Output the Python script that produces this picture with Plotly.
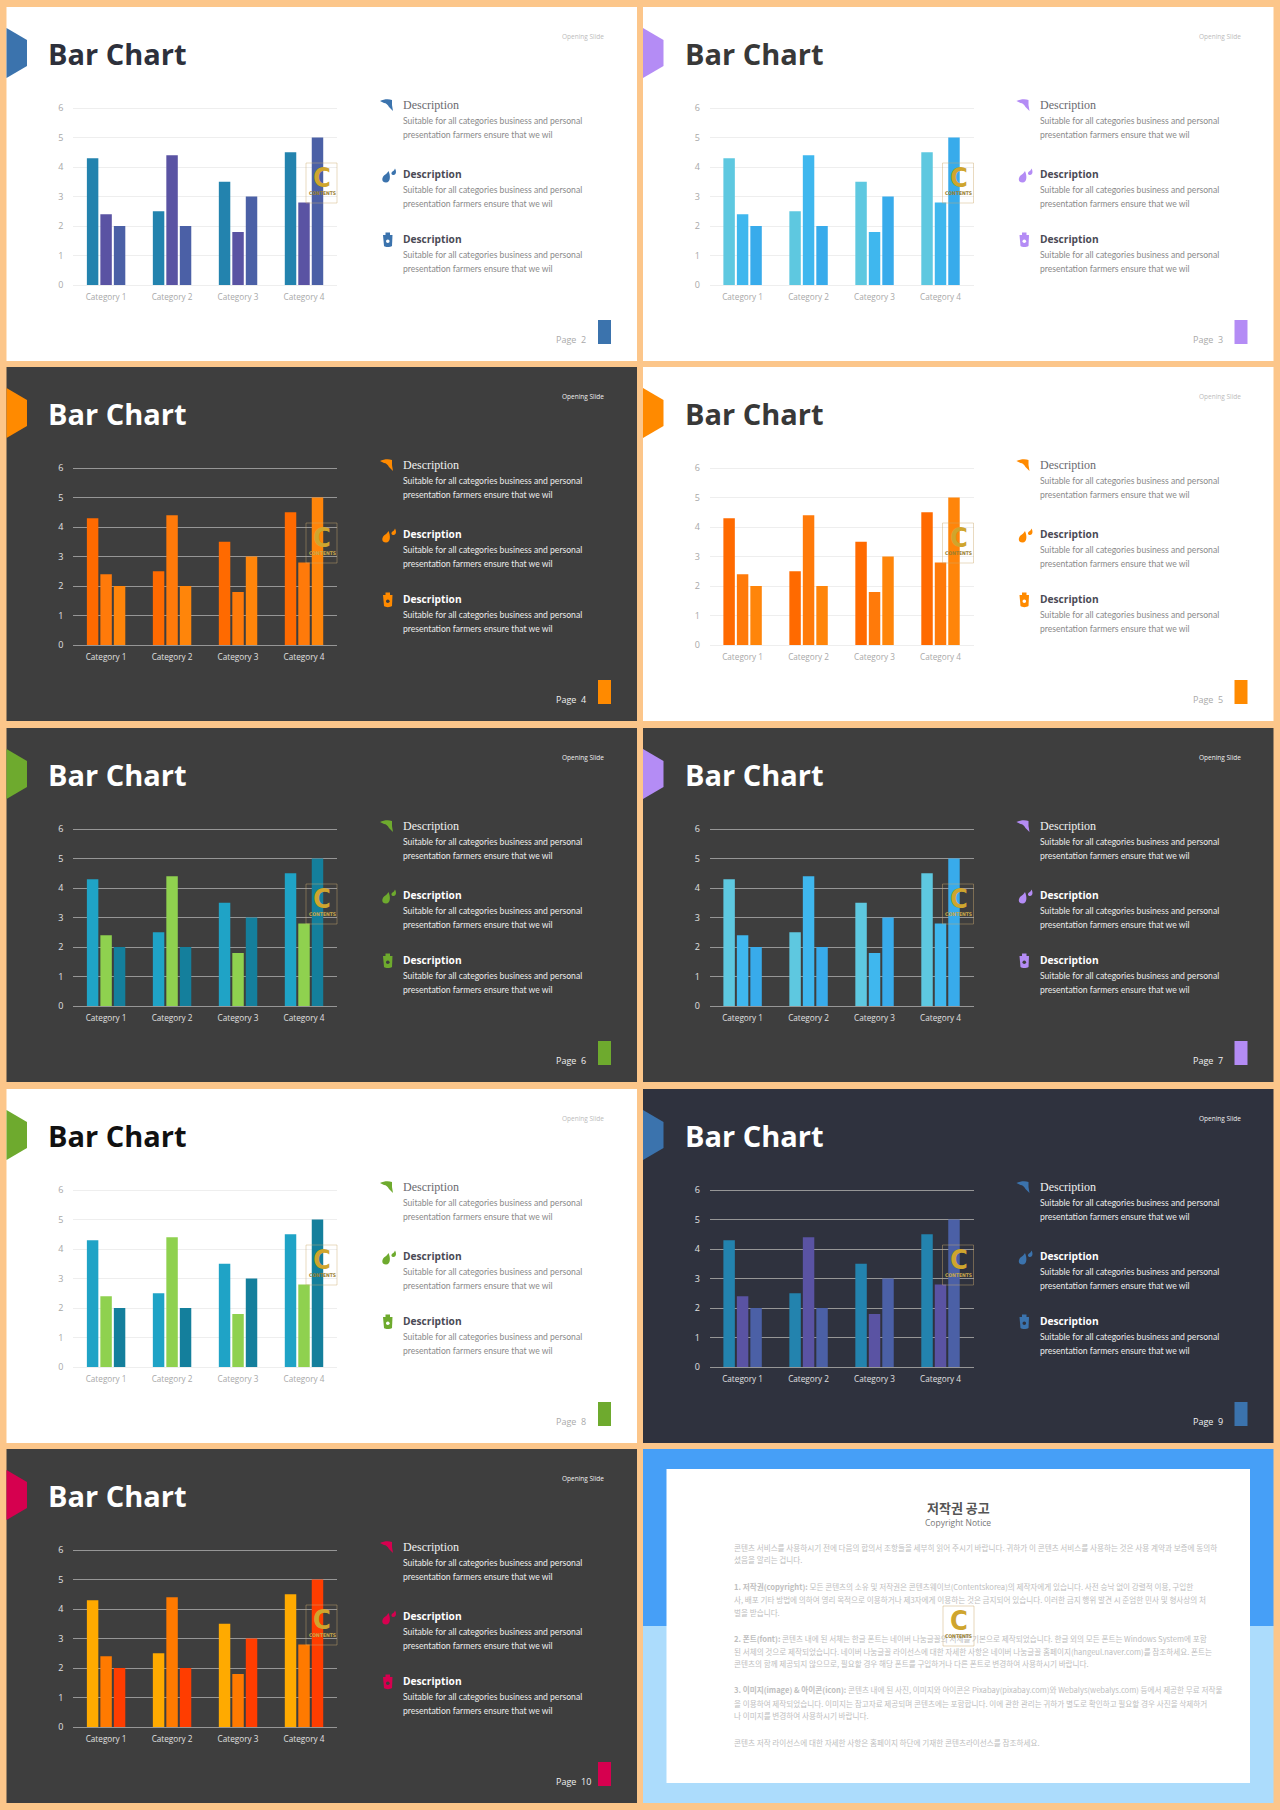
import plotly.graph_objects as go

W, H = 1280, 1810

categories = ["Category 1", "Category 2", "Category 3", "Category 4"]
series_1 = [4.3, 2.5, 3.5, 4.5]
series_2 = [2.4, 4.4, 1.8, 2.8]
series_3 = [2.0, 2.0, 3.0, 5.0]
series_names = ["Series 1", "Series 2", "Series 3"]
y_ticks = [0, 1, 2, 3, 4, 5, 6]
pages = [2, 3, 4, 5, 6, 7, 8, 9, 10]
backgrounds = ["#FFFFFF", "#FFFFFF", "#3E3E3E", "#FFFFFF", "#3E3E3E", "#3E3E3E", "#FFFFFF", "#2F323E", "#3E3E3E"]
title_colors = ["#2D303B", "#383838", "#FFFFFF", "#383838", "#FFFFFF", "#FFFFFF", "#111111", "#FFFFFF", "#FFFFFF"]
accents = ["#3B73AD", "#B48CF5", "#FF8A00", "#FF8A00", "#6EAA2E", "#B48CF5", "#6EAA2E", "#3B73AD", "#D6004F"]
palettes = [
    ["#2383AE", "#5A53A3", "#4B60A6"],
    ["#5EC8E0", "#3FB7EE", "#38ABEB"],
    ["#FF6A00", "#FF7A0A", "#FF850A"],
    ["#FF6A00", "#FF7A0A", "#FF850A"],
    ["#1FA3C6", "#8FD14F", "#147F9C"],
    ["#5EC8E0", "#3FB7EE", "#38ABEB"],
    ["#1FA3C6", "#8FD14F", "#147F9C"],
    ["#2383AE", "#5A53A3", "#4B60A6"],
    ["#FFAA00", "#FF7A00", "#FF3D00"],
]
desc_title = "Description"
desc_line_1 = "Suitable for all categories business and personal"
desc_line_2 = "presentation farmers ensure that we wil"
notice_title = "저작권 공고"
notice_sub = "Copyright Notice"
notice_lines = [
    "콘텐츠 서비스를 사용하시기 전에 다음의 합의서 조항들을 세부히 읽어 주시기 바랍니다. 귀하가 이 콘텐츠 서비스를 사용하는 것은 사용 계약과 보증에 동의하",
    "셨음을 알리는 겁니다.",
    "<b>1. 저작권(copyright):</b> 모든 콘텐츠의 소유 및 저작권은 콘텐츠웨이브(Contentskorea)의 제작자에게 있습니다. 사전 승낙 없이 강렬적 이용, 구입한",
    "사, 배포 기타 방법에 의하여 영리 목적으로 이용하거나 제3자에게 이용하는 것은 금지되어 있습니다. 이러한 금지 행위 발견 시 준엄한 민사 및 형사상의 처",
    "벌을 받습니다.",
    "<b>2. 폰트(font):</b> 콘텐츠 내에 된 서체는 한글 폰트는 네이버 나눔글꼴의 서체를 기본으로 제작되었습니다. 한글 외의 모든 폰트는 Windows System에 포함",
    "된 서체의 것으로 제작되었습니다. 네이버 나눔글꼴 라이선스에 대한 자세한 사항은 네이버 나눔글꼴 홈페이지(hangeul.naver.com)를 참조하세요. 폰트는",
    "콘텐츠의 함께 제공되지 않으므로, 필요할 경우 해당 폰트를 구입하거나 다른 폰트로 변경하여 사용하시기 바랍니다.",
    "<b>3. 이미지(image) &amp; 아이콘(icon):</b> 콘텐츠 내에 된 사진, 이미지와 아이콘은 Pixabay(pixabay.com)와 Webalys(webalys.com) 등에서 제공한 무료 저작물",
    "을 이용하여 제작되었습니다. 이미지는 참고자료 제공되며 콘텐츠에는 포함합니다. 이에 관한 관리는 귀하가 별도로 확인하고 필요할 경우 사진을 삭제하거",
    "나 이미지를 변경하여 사용하시기 바랍니다.",
    "콘텐츠 저작 라이선스에 대한 자세한 사항은 홈페이지 하단에 기재한 콘텐츠라이선스를 참조하세요.",
]
notice_line_y = [1547, 1559, 1586, 1599, 1612, 1638, 1651, 1663, 1689, 1703, 1715, 1742]

col_x = [6.5, 643]
row_y = [7, 367, 728, 1089, 1449]
panel_w, panel_h = 630.5, 354
LOGO = "DejaVu Sans Condensed"
Y_PAD = 0.04


def fx(p):
    return p / W


def fy(p):
    return 1 - p / H


def path(cmds):
    out = []
    for c in cmds:
        if isinstance(c, str):
            out.append(c)
        else:
            out.append(f"{fx(c[0]):.5f},{fy(c[1]):.5f}")
    return " ".join(out)


fig = go.Figure()
shapes, annos = [], []


def rect(x0, y0, x1, y1, fill, layer="below", line=None, lw=0):
    shapes.append(dict(type="rect", xref="paper", yref="paper", x0=fx(x0), x1=fx(x1), y0=fy(y1), y1=fy(y0),
                       fillcolor=fill, layer=layer, line=dict(color=line or "rgba(0,0,0,0)", width=lw)))


def txt(x, y, s, size, color, family="Open Sans", anchor="left"):
    annos.append(dict(x=fx(x), y=fy(y), xref="paper", yref="paper", text=s, showarrow=False, xanchor=anchor,
                      yanchor="middle", align=anchor, font=dict(size=size, color=color, family=family),
                      borderpad=0, borderwidth=0))


def pth(cmds, fill):
    shapes.append(dict(type="path", xref="paper", yref="paper", path=path(cmds), fillcolor=fill, layer="above",
                       line=dict(width=0)))


# page background
rect(0, 0, W, H, "#FCC68A")

slots = [(c, r) for r in range(4) for c in range(2)] + [(0, 4)]
for i, (c, r) in enumerate(slots):
    x0, y0 = col_x[c], row_y[r]
    bg, acc, tc = backgrounds[i], accents[i], title_colors[i]
    dark = bg != "#FFFFFF"
    rect(x0, y0, x0 + panel_w, y0 + panel_h, bg)

    # header marker and page marker
    shapes.append(dict(type="path", xref="paper", yref="paper", layer="below", fillcolor=acc, line=dict(width=0),
                       path=path(["M", (x0, y0 + 21), "L", (x0 + 20.5, y0 + 33), "L", (x0 + 20.5, y0 + 59),
                                  "L", (x0, y0 + 71), "Z"])))
    rect(x0 + 591.5, y0 + 313, x0 + 604.5, y0 + 337, acc)

    txt(x0 + 41.5, y0 + 46.5, "<b>Bar Chart</b>", 29, tc)
    txt(x0 + 597.5, y0 + 29, "Opening Slide", 6.5, "#F0F0F0" if dark else "#BBBBBB", anchor="right")
    txt(x0 + 549.5, y0 + 332, f"Page&nbsp;&nbsp;{pages[i]}", 9, "#F0F0F0" if dark else "#AAAAAA")

    body = "#ECECEC" if dark else "#8A8A8A"
    head = "#FFFFFF" if dark else "#4A4A55"
    head1 = "#F0F0F0" if dark else "#6A6A70"
    tx = x0 + 396.5
    txt(tx, y0 + 98, desc_title, 12, head1, "Liberation Serif")
    txt(tx, y0 + 167, f"<b>{desc_title}</b>", 10.2, head)
    txt(tx, y0 + 232, f"<b>{desc_title}</b>", 10.2, head)
    for yy in (114, 183, 248):
        txt(tx, y0 + yy, desc_line_1, 8.6, body, "Lato")
        txt(tx, y0 + yy + 14, desc_line_2, 8.6, body, "Lato")

    # icons
    ox, oy = x0 - 6.5, y0 - 7
    P = lambda a, b: (ox + a, oy + b)
    pth(["M", P(380, 101), "C", P(384, 99), P(389, 99), P(392, 100), "L", P(392, 105), "L", P(393, 111),
         "L", P(389, 107), "C", P(388, 105), P(386, 103), P(384, 103), "Z"], acc)
    pth(["M", P(388.5, 171), "C", P(390.5, 175), P(391, 182.5), P(386, 182.5), "C", P(381.5, 182.5), P(381.5, 178), P(384, 175.5),
         "C", P(386, 174), P(387.5, 173), P(388.5, 171), "Z"], acc)
    pth(["M", P(395, 168.5), "C", P(396.5, 171), P(396.5, 175), P(393.5, 175), "C", P(391, 175), P(391, 172.5), P(392.5, 171.5),
         "C", P(393.5, 171), P(394.5, 170), P(395, 168.5), "Z"], acc)
    pth(["M", P(383, 235), "L", P(392.5, 235), "L", P(392, 246), "C", P(390, 247.5), P(385.5, 247.5), P(384, 246), "Z"], acc)
    pth(["M", P(385.5, 232.5), "L", P(390, 232.5), "L", P(390, 235), "L", P(385.5, 235), "Z"], acc)
    shapes.append(dict(type="circle", xref="paper", yref="paper", layer="above", fillcolor=bg, line=dict(width=0),
                       x0=fx(ox + 386), x1=fx(ox + 389.6), y0=fy(oy + 243), y1=fy(oy + 239.4)))

    # chart
    n = "" if i == 0 else str(i + 1)
    xa, ya = f"x{n}", f"y{n}"
    for name, vals, color in zip(series_names, [series_1, series_2, series_3], palettes[i]):
        fig.add_trace(go.Bar(x=categories, y=vals, name=name, marker=dict(color=color, line=dict(width=0)),
                             xaxis=xa, yaxis=ya, showlegend=False))
    grid = "#969696" if dark else "#EEEEEE"
    tick = "#E0E0E0" if dark else "#A8A8A8"
    unit = 177 / 6
    fig.layout[f"xaxis{n}"] = dict(domain=[fx(x0 + 66.6), fx(x0 + 330.5)], anchor=ya, type="category", automargin=False,
                                   categoryorder="array", categoryarray=categories, showgrid=False, zeroline=False,
                                   showline=False, ticks="outside", ticklen=3, tickcolor="rgba(0,0,0,0)",
                                   tickfont=dict(size=8.2, color=tick, family="Open Sans"))
    fig.layout[f"yaxis{n}"] = dict(domain=[fy(y0 + 278 + Y_PAD * unit), fy(y0 + 101 - Y_PAD * unit)], anchor=xa,
                                   range=[-Y_PAD, 6 + Y_PAD], tickvals=y_ticks, automargin=False,
                                   showgrid=True, gridcolor=grid, gridwidth=1.3 if dark else 1.2, zeroline=False,
                                   showline=False, ticks="outside", ticklen=7, tickcolor="rgba(0,0,0,0)",
                                   tickfont=dict(size=9, color=tick, family="Open Sans"))

    # watermark
    rect(x0 + 299.5, y0 + 156, x0 + 330.5, y0 + 196, "rgba(0,0,0,0)", "above", "rgba(205,170,110,0.55)", 0.8)
    txt(x0 + 315.5, y0 + 170.5, "<b>C</b>", 27, "#CFA52E", LOGO, "center")
    txt(x0 + 315.5, y0 + 185.5, "<b>CONTENTS</b>", 5, "#C9A84A" if dark else "#9A8030", LOGO, "center")

# notice panel
x0, y0 = col_x[1], row_y[4]
rect(x0, y0, x0 + panel_w, 1626, "#469FF7")
rect(x0, 1626, x0 + panel_w, y0 + panel_h, "#ACDCFC")
rect(666.5, 1469, 1250, 1783, "#FFFFFF")
txt(958, 1507, f"<b>{notice_title}</b>", 13, "#555555", "Noto Sans CJK KR", "center")
txt(958, 1522, notice_sub, 8.5, "#777777", "Open Sans", "center")
for s, yy in zip(notice_lines, notice_line_y):
    txt(734, yy, s, 7.6, "#BEBEBE", "Noto Sans CJK KR")
rect(943, 1606, 974, 1646, "rgba(255,255,255,0.35)", "above", "rgba(205,170,110,0.6)", 0.8)
txt(958.5, 1620.5, "<b>C</b>", 27, "#CFA52E", LOGO, "center")
txt(958.5, 1635.5, "<b>CONTENTS</b>", 5, "#9A8030", LOGO, "center")

fig.update_layout(width=W, height=H, margin=dict(l=0, r=0, t=0, b=0, pad=0), paper_bgcolor="#FCC68A",
                  plot_bgcolor="rgba(0,0,0,0)", barmode="group", bargap=0.387, bargroupgap=0.15,
                  shapes=shapes, annotations=annos, showlegend=False)

fig.write_html("out.html", config={"displayModeBar": False},
               post_script="document.body.style.margin='0';document.documentElement.style.overflow='hidden';")
